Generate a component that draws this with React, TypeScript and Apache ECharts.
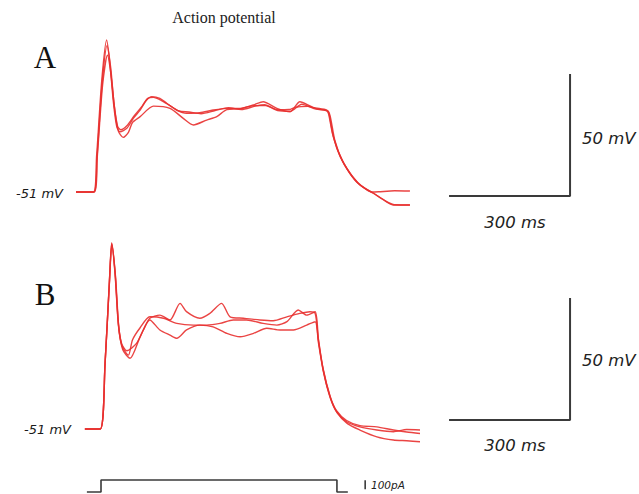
import React, { useEffect, useRef } from "react";
import * as echarts from "echarts";

// time in ms, membrane potential in mV
const tracesA: [number, number][][] = [
  [
    [0, -51], [43, -51], [51, -36.5], [64, -5], [76, 11.3], [84, 1.7], [93, -14.6], [101, -24.2], [109, -26.3],
    [126, -24.9], [142, -20.8], [159, -17.4], [175, -13.3], [188, -11.9], [208, -12.6], [225, -14.6], [250, -17.4],
    [274, -18.7], [307, -18.5], [340, -17.4], [374, -16.7], [407, -16.7], [440, -15.3], [464, -14.0], [498, -16.7],
    [531, -18.1], [555, -14.0], [588, -16.3], [622, -17.4], [628, -19.4], [638, -28.3], [655, -36.5], [679, -43.3],
    [704, -48.1], [737, -51.5], [770, -55], [787, -56.3], [828, -56.3],
  ],
  [
    [0, -51], [45, -51], [53, -36], [66, -7], [78, 5.1], [86, -2], [95, -15.5], [103, -24], [111, -25.5],
    [128, -23.5], [145, -19.6], [162, -16.2], [178, -12.6], [192, -12.2], [212, -13.5], [232, -15.5], [255, -17.8],
    [280, -18.2], [310, -18.9], [345, -17.6], [378, -16.4], [410, -17.2], [444, -15.8], [468, -15.2], [500, -17.3],
    [528, -17.2], [545, -16.2], [575, -15.9], [600, -17.0], [625, -17.8], [631, -20.5], [642, -30], [660, -38],
    [685, -44.5], [710, -48.8], [735, -51.0], [750, -50.9], [790, -50.5], [828, -50.6],
  ],
  [
    [0, -51], [44, -51], [52, -37], [65, -6], [77, 9], [86, 0], [95, -16], [105, -26], [117, -28.6],
    [130, -26.5], [140, -22.5], [159, -20.1], [192, -15.8], [233, -16.7], [266, -20.8], [291, -23.5], [324, -21.5],
    [349, -20.1], [374, -17.2], [407, -16.9], [440, -15.6], [470, -15.6], [500, -17.6], [531, -17.9], [560, -15.0],
    [590, -16.8], [620, -17.6], [626, -18.8], [636, -27.0], [653, -35.5], [677, -42.8], [702, -47.8], [736, -51.3],
    [768, -54.7], [790, -56.2], [828, -56.3],
  ],
];

const tracesB: [number, number][][] = [
  [
    [22, -51], [60, -51], [72, -24.1], [83, 10.1], [88.5, 25.4], [97, 12.8], [105, -7.7], [113, -15.9], [126, -18.9],
    [150, -15.9], [167, -10.4], [183, -5.6], [208, -4.3], [233, -6.3], [258, 0.5], [274, -2.9], [307, -5.6],
    [332, -3.6], [361, 0.5], [382, -5.0], [415, -5.6], [456, -6.3], [489, -6.6], [523, -5.0], [555, -3.6],
    [580, -2.9], [593, -3.6], [601, -14.5], [613, -26.8], [630, -37.8], [646, -43.9], [671, -48.0], [704, -50.1],
    [746, -51.4], [787, -52.1], [820, -51.2], [853, -51.4],
  ],
  [
    [22, -51], [60, -51], [72, -24.5], [83, 9.5], [89, 24.5], [98, 11.5], [106, -9], [116, -18.5], [134, -22.0],
    [159, -13.2], [183, -6.3], [208, -10.4], [233, -12.5], [250, -13.8], [274, -10.4], [307, -8.4], [340, -9.1],
    [374, -11.8], [407, -13.2], [440, -11.8], [473, -9.7], [506, -10.4], [539, -10.4], [572, -8.4], [593, -7.0],
    [601, -15.5], [614, -28], [631, -38.5], [648, -44.5], [673, -48.8], [704, -51.4], [746, -54.2], [787, -55.5],
    [820, -55.8], [853, -56.2],
  ],
  [
    [22, -51], [60, -51], [72, -24.3], [83, 9.8], [88.5, 25], [97, 12.2], [105, -8.2], [114, -17], [130, -20.7],
    [140, -14.5], [159, -9.5], [183, -5.0], [217, -5.6], [250, -7.7], [291, -8.4], [324, -8.4], [357, -7.7],
    [390, -6.3], [423, -6.3], [464, -7.7], [498, -8.4], [523, -7.0], [551, -2.2], [572, -4.3], [593, -2.9],
    [601, -14], [613, -26.5], [630, -37.5], [646, -43.5], [671, -47.5], [704, -49.6], [746, -50.1], [787, -51.4],
    [820, -52.2], [853, -52.8],
  ],
];

// calibration bars: 300 ms x 50 mV
const scaleBarA: [number, number][] = [[925, -52.6], [1225, -52.6], [1225, -2.6]];
const scaleBarB: [number, number][] = [[925, -47.3], [1225, -47.3], [1225, 2.7]];

// injected current step (pA) and its 100 pA bar
const stimulus: [number, number][] = [[27, 0], [62, 0], [62, 133], [647, 133], [647, 0], [674, 0]];
const currentBar: [number, number][] = [[717, 30], [717, 130]];

const RED = "#e8302f";
const DARK = "#3a3a3a";
const SANS = "DejaVu Sans, sans-serif";
const SERIF = "Liberation Serif, Times New Roman, serif";

export default function App() {
  const ref = useRef<HTMLDivElement>(null);
  useEffect(() => {
    if (!ref.current) return;
    const chart = echarts.init(ref.current, undefined, { renderer: "svg" });
    const xW = 524.3;
    const grids = [
      { left: 76, top: 18.8, width: xW, height: 195.2 },
      { left: 76, top: 231.4, width: xW, height: 219.6 },
      { left: 76, top: 474, width: xW, height: 19.8 },
    ];
    const yRanges = [[-60, 20], [-60, 30], [-20, 200]];
    const traceSeries = (data: [number, number][], gi: number) => ({
      type: "line",
      xAxisIndex: gi,
      yAxisIndex: gi,
      data,
      showSymbol: false,
      smooth: 0.25,
      clip: false,
      lineStyle: { color: RED, width: 1.4, opacity: 0.9, join: "round" },
      silent: true,
    });
    const barSeries = (data: [number, number][], gi: number, w: number) => ({
      type: "line",
      xAxisIndex: gi,
      yAxisIndex: gi,
      data,
      showSymbol: false,
      clip: false,
      lineStyle: { color: DARK, width: w },
      silent: true,
    });
    const txt = (text: string, x: number, y: number, font: any, align = "left") => ({
      type: "text",
      x,
      y,
      style: {
        text,
        textAlign: align,
        textVerticalAlign: "middle",
        fill: font.fill || "#222",
        fontFamily: font.family,
        fontSize: font.size,
        fontStyle: font.style || "normal",
      },
    });
    chart.setOption({
      animation: false,
      backgroundColor: "#fff",
      grid: grids,
      xAxis: grids.map((_, i) => ({ type: "value", gridIndex: i, min: 0, max: 1300, show: false })),
      yAxis: grids.map((_, i) => ({ type: "value", gridIndex: i, min: yRanges[i][0], max: yRanges[i][1], show: false })),
      series: [
        ...tracesA.map((d) => traceSeries(d, 0)),
        ...tracesB.map((d) => traceSeries(d, 1)),
        barSeries(scaleBarA, 0, 2),
        barSeries(scaleBarB, 1, 2),
        barSeries(stimulus, 2, 1.6),
        barSeries(currentBar, 2, 1.6),
      ],
      graphic: [
        txt("Action potential", 224, 17, { family: SERIF, size: 16 }, "center"),
        txt("A", 45, 57, { family: SERIF, size: 31, fill: "#111" }, "center"),
        txt("B", 45, 294, { family: SERIF, size: 31, fill: "#111" }, "center"),
        txt("-51 mV", 63, 193, { family: SANS, size: 13, style: "italic", fill: "#1a1a1a" }, "right"),
        txt("-51 mV", 71, 429, { family: SANS, size: 13, style: "italic", fill: "#1a1a1a" }, "right"),
        txt("50 mV", 582, 138, { family: SANS, size: 16.5, style: "italic" }),
        txt("50 mV", 582, 360, { family: SANS, size: 16.5, style: "italic" }),
        txt("300 ms", 515, 222, { family: SANS, size: 16.5, style: "italic" }, "center"),
        txt("300 ms", 515, 445, { family: SANS, size: 16.5, style: "italic" }, "center"),
        txt("100pA", 371, 485, { family: SANS, size: 10.5, style: "italic" }),
      ],
    });
    return () => chart.dispose();
  }, []);
  return <div ref={ref} style={{ width: 639, height: 494, position: "absolute", left: 0, top: 0 }} />;
}
